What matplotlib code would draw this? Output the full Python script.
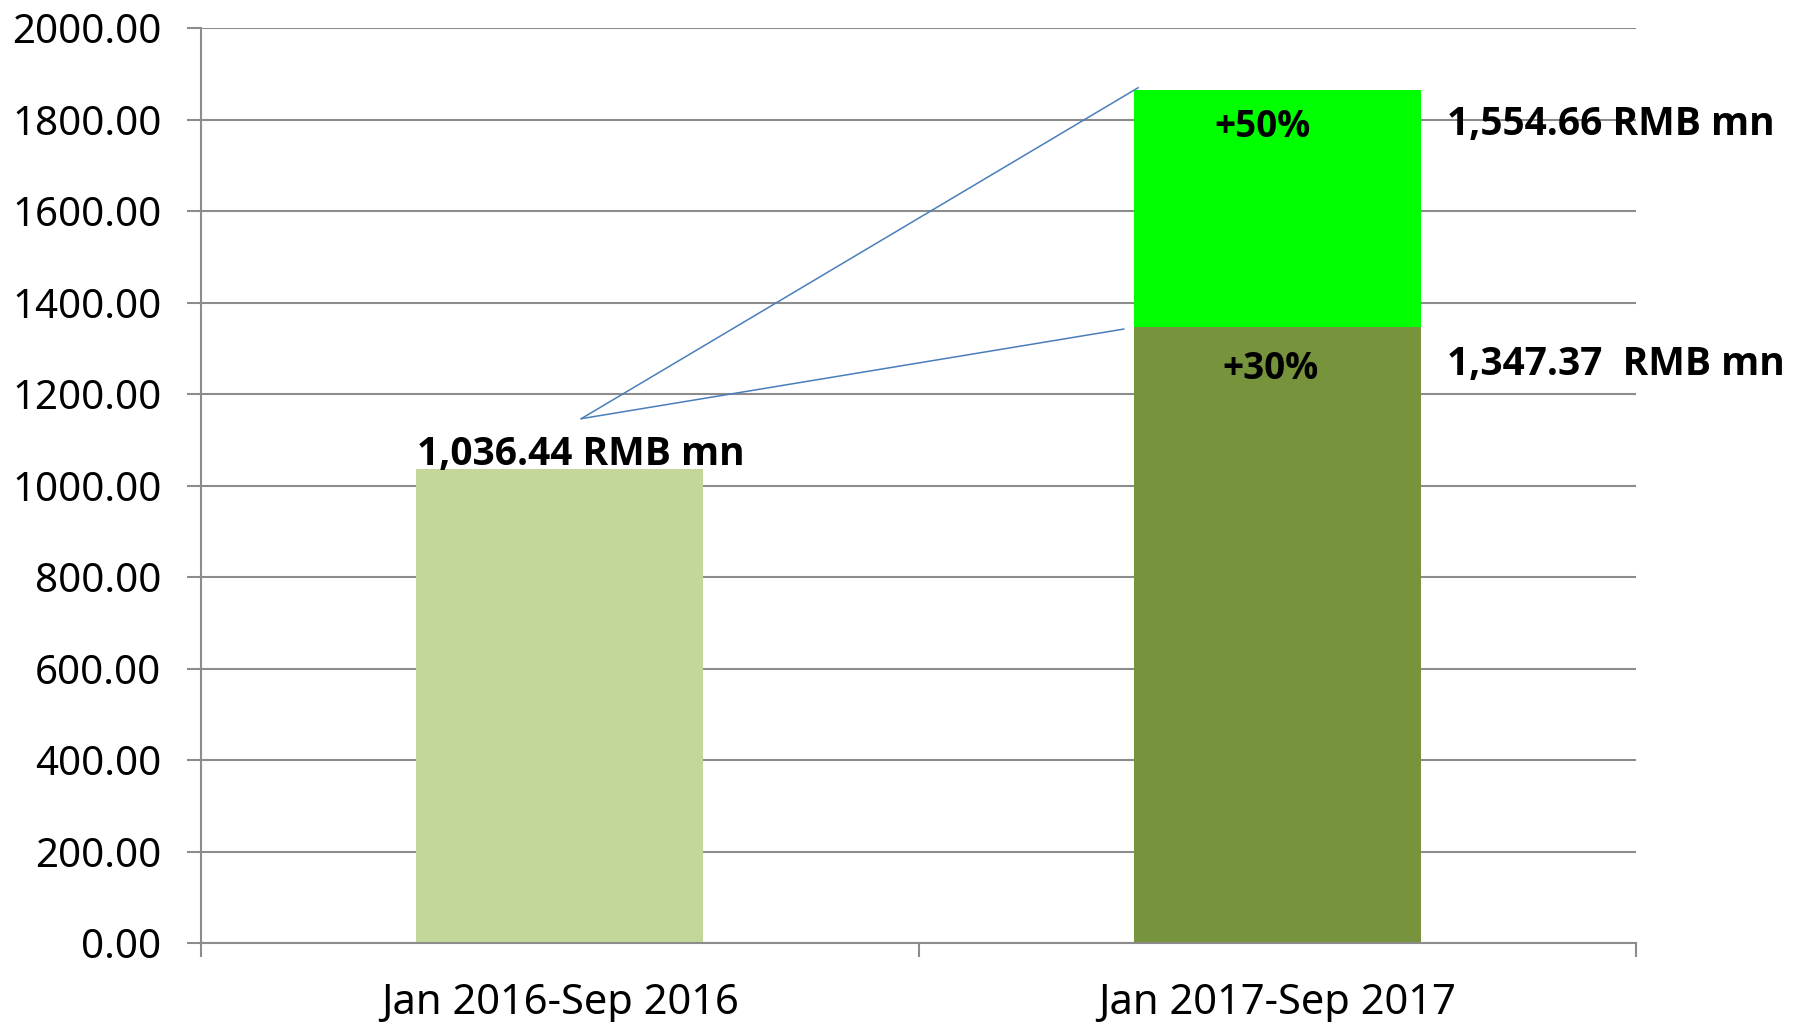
import matplotlib.pyplot as plt

# datos
categories = ['Jan 2016-Sep 2016', 'Jan 2017-Sep 2017']
base_values = [1036.44, 1347.37]
extra_values = [0.0, 518.6]
value_labels = ['1,036.44 RMB mn', '1,347.37  RMB mn', '1,554.66 RMB mn']
growth_labels = ['+30%', '+50%']
y_ticks = [0, 200, 400, 600, 800, 1000, 1200, 1400, 1600, 1800, 2000]

plt.rcParams['font.family'] = ['Noto Sans', 'DejaVu Sans']

GRID = '#8c8c8c'
BAR_WIDTH = 0.4
BOLD = dict(fontweight='bold', family=['Open Sans', 'Roboto', 'DejaVu Sans'], zorder=4)


def draw_bars(ax):
    x = range(len(categories))
    ax.bar(x, base_values, width=BAR_WIDTH, color=['#c4d79b', '#77933c'], zorder=2)
    ax.bar(x, extra_values, bottom=base_values, width=BAR_WIDTH, color='#00ff00', zorder=2)


def draw_labels(ax):
    top_2017 = base_values[1] + extra_values[1]
    # etiqueta de la primera barra
    ax.text(0.03, base_values[0] + 32, value_labels[0], ha='center', va='center',
            fontsize=28, **BOLD)
    # etiquetas a la derecha de la segunda barra
    right_x = 1 + BAR_WIDTH / 2 + 0.037
    ax.text(right_x, base_values[1] - 82, value_labels[1], ha='left', va='center',
            fontsize=28, **BOLD)
    ax.text(right_x, top_2017 - 76, value_labels[2], ha='left', va='center',
            fontsize=28, **BOLD)
    # porcentajes dentro de la barra
    ax.text(0.99, base_values[1] - 92, growth_labels[0], ha='center', va='center',
            fontsize=26.5, **BOLD)
    ax.text(0.98, top_2017 - 82, growth_labels[1], ha='center', va='center',
            fontsize=26.5, **BOLD)
    # lineas de conexion
    start = (0.03, base_values[0] + 110)
    left_edge = 1 - BAR_WIDTH / 2
    ax.plot([start[0], left_edge + 0.006], [start[1], top_2017 + 4],
            color='#4a7ebb', lw=1.1, zorder=3)
    ax.plot([start[0], left_edge - 0.014], [start[1], base_values[1] - 5],
            color='#4a7ebb', lw=1.1, zorder=3)


def style_axes(ax):
    ax.set_xlim(-0.5, 1.5)
    ax.set_ylim(0, 2000)
    ax.set_yticks(y_ticks)
    ax.set_yticklabels([f'{v:.2f}' for v in y_ticks], fontsize=29)
    ax.set_xticks([0, 1])
    ax.set_xticklabels(categories, fontsize=30)
    ax.set_xticks([-0.5, 0.5, 1.5], minor=True)
    ax.tick_params(axis='x', which='major', length=0, pad=28)
    ax.tick_params(axis='x', which='minor', length=10, width=1.5, color=GRID)
    ax.tick_params(axis='y', length=10, width=1.5, color=GRID, pad=18.5)
    ax.yaxis.grid(True, color=GRID, lw=1.5, zorder=0)
    ax.set_axisbelow(True)
    for side in ['top', 'right']:
        ax.spines[side].set_visible(False)
    for side in ['left', 'bottom']:
        ax.spines[side].set_color(GRID)
        ax.spines[side].set_linewidth(1.5)


fig = plt.figure(figsize=(18.04, 10.22), dpi=100)
ax = fig.add_axes([0.1114, 0.0773, 0.7955, 0.895])
draw_bars(ax)
style_axes(ax)
draw_labels(ax)
fig.savefig('out.png', dpi=100)
